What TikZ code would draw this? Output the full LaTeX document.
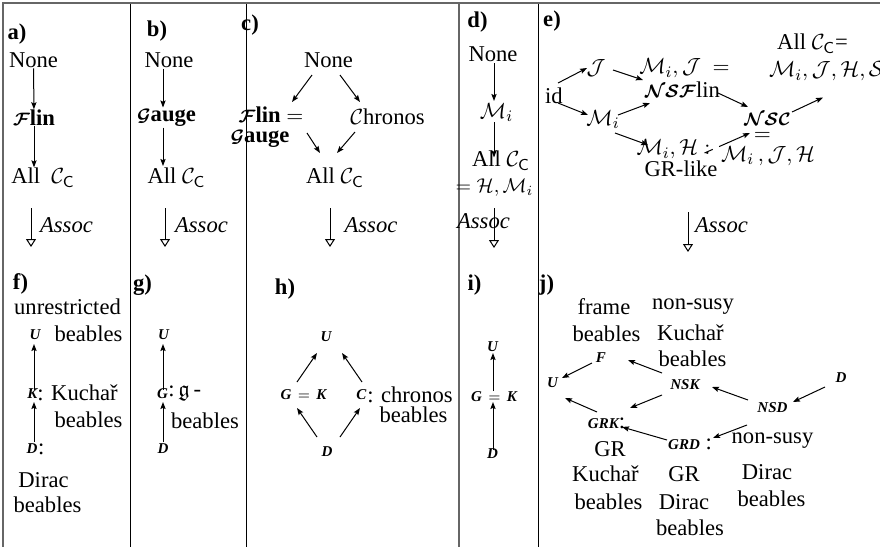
\documentclass[tikz,border=0pt]{standalone}
\usepackage{amsmath,amssymb,bm}
\usepackage{fontspec}
\setmainfont{Liberation Serif}
\usetikzlibrary{arrows.meta,calc}
\newcommand{\mainsz}{\fontsize{11.3}{13.3}\selectfont}
\newcommand{\bix}[1]{{\fontsize{7.5}{9}\selectfont\bfseries\itshape #1}}
\newcommand{\calb}[1]{{\fontsize{9}{10}\selectfont$\bm{\mathcal{#1}}$}}
\newcommand{\CcC}{\mathcal{C}_{\mathsf{C}}}
\begin{document}
\begin{tikzpicture}[x=0.5pt,y=-0.5pt,
  every node/.style={inner sep=0pt,font=\mainsz},
  arr/.style={-{Stealth[length=3.5pt,width=2.6pt,inset=0.6pt]},line width=0.5pt},
  assoc/.style={-{Triangle[open,length=4pt,width=5pt]},line width=0.5pt},
  lab/.style={font=\mainsz\bfseries},
  thinrule/.style={line width=0.5pt,black},
  thickrule/.style={line width=1pt,black!60}]
\useasboundingbox (0,0) rectangle (880,547);
% grid
\coordinate (tl) at (3,3);
\coordinate (tr) at (880,3);
\coordinate (bl) at (3,547);
\coordinate (v1t) at (130,3); \coordinate (v1b) at (130,547);
\coordinate (v2t) at (246,3); \coordinate (v2b) at (246,547);
\coordinate (v3t) at (459,3); \coordinate (v3b) at (459,547);
\coordinate (v4t) at (538,3); \coordinate (v4b) at (538,547);
\draw[thinrule] (v1t) -- (v1b);
\draw[thinrule] (v2t) -- (v2b);
\draw[thinrule] (v4t) -- (v4b);
\draw[thickrule] (v3t) -- (v3b);
\draw[thickrule] (bl) -- (tl) -- (tr);

% ---------- a)
\node[lab] (la) at (17,34) {a)};
\node (aNone) at (33.5,60.5) {None};
\node (aF) at (34,117.5) {\calb{F}\textbf{lin}};
\node (aAll) at (43,177.5) {All~~$\CcC$};
\draw[arr] (aNone) -- (aF);
\draw[arr] (aF) -- (aF |- aAll.north);
\coordinate (aA1) at (31,208); \coordinate (aA2) at (31,247);
\draw[assoc] (aA1) -- (aA2);
\node (aAs) at (66.5,225) {\textit{Assoc}};

% ---------- b)
\node[lab] (lb) at (157,31.5) {b)};
\node (bNone) at (169,60.5) {None};
\node (bG) at (166.5,117.5) {\calb{G}\textbf{auge}};
\node (bAll) at (176.5,178) {All $\CcC$};
\draw[arr] ($(bNone)+(-6,8)$) -- ($(bG)+(-3.5,-10)$);
\draw[arr] ($(bG)+(-3.5,10)$) -- ($(bAll)+(-13.5,-12)$);
\coordinate (bA1) at (165,208); \coordinate (bA2) at (165,247);
\draw[assoc] (bA1) -- (bA2);
\node (bAs) at (201.5,225) {\textit{Assoc}};

% ---------- c)
\node[lab] (lc) at (250,25) {c)};
\node (cNone) at (328.5,60.5) {None};
\node (cF) at (271,115) {\calb{F}\textbf{lin} $=$};
\node (cG) at (260,139) {\calb{G}\textbf{auge}};
\node (cCh) at (387.5,116.5) {$\mathcal{C}$hronos};
\node (cAll) at (335,178) {All $\CcC$};
\draw[arr] ($(cNone)+(-16.5,14.5)$) -- ($(cF)+(21,-13)$);
\draw[arr] ($(cNone)+(11.5,14.5)$) -- ($(cCh)+(-27.5,-14.5)$);
\draw[arr] ($(cG)+(47,-6)$) -- ($(cAll)+(-15,-25)$);
\draw[arr] ($(cCh)+(-32.5,15.5)$) -- ($(cAll)+(2,-25)$);
\coordinate (cA1) at (330,208); \coordinate (cA2) at (330,247);
\draw[assoc] (cA1) -- (cA2);
\node (cAs) at (371,225) {\textit{Assoc}};

% ---------- d)
\node[lab] (ld) at (477.5,22.5) {d)};
\node (dNone) at (493,54.5) {None};
\node (dM) at (496.5,112.5) {$\mathcal{M}_i$};
\node (dAll) at (501,160.5) {All $\CcC$};
\node[font=\fontsize{10}{12}\selectfont] (dEq) at (494.5,187.5) {$=\mathcal{H},\mathcal{M}_i$};
\draw[arr] ($(dNone)+(1,8.5)$) -- ($(dM)+(-2.5,-11.5)$);
\draw[arr] ($(dM)+(-2.5,9.5)$) -- ($(dAll)+(-7,-3)$);
\node (dAs) at (483.5,221.5) {\textit{Assoc}};
\coordinate (dA1) at (494,208); \coordinate (dA2) at (494,248);
\draw[assoc] (dA1) -- (dA2);

% ---------- e)
\node[lab] (le) at (552,21.5) {e)};
\node (eId) at (554,96) {id};
\node (eJ) at (596,68) {$\mathcal{J}$};
\node (eM) at (603,119.5) {$\mathcal{M}_i$};
\node (eMJ) at (684.5,68.5) {$\mathcal{M}_i, \mathcal{J}\ =$};
\node (eNSF) at (682.5,89.5) {\calb{NSF}lin};
\node (eMH) at (673.5,149.5) {$\mathcal{M}_i, \mathcal{H}:$};
\node (eGR) at (681,168.5) {GR-like};
\node (eNSC) at (767.5,119) {\calb{NSC}};
\node (eEq) at (762.5,136) {$=$};
\node (eMJH) at (768,156) {$\mathcal{M}_i\,, \mathcal{J}, \mathcal{H}$};
\node (eAll) at (812.5,44) {All $\CcC$=};
\node (eAll2) at (826.5,71.5) {$\mathcal{M}_i, \mathcal{J}, \mathcal{H}, \mathcal{S}$};
\draw[arr] ($(eId)+(4,-13)$) -- ($(eJ)+(-9,0)$);
\draw[arr] ($(eId)+(4,7)$) -- ($(eM)+(-15,-4.5)$);
\draw[arr] ($(eJ)+(17,2)$) -- ($(eNSF)+(-39.5,-9.5)$);
\draw[arr] ($(eM)+(15,-4.5)$) -- ($(eNSF)+(-32.5,13.5)$);
\draw[arr] ($(eM)+(12,13.5)$) -- ($(eMH)+(-25.5,-4.5)$);
\draw[arr] ($(eNSF)+(35.5,3.5)$) -- ($(eNSC)+(-19.5,-12)$);
\draw[arr,dash pattern=on 4.5pt off 3.5pt on 60pt] ($(eMH)+(31,3.5)$) -- ($(eNSC)+(-17.5,14)$);
\draw[arr] ($(eNSC)+(24.5,-7)$) -- ($(eAll2)+(-3.5,26)$);
\coordinate (eA1) at (688,212); \coordinate (eA2) at (688,252);
\draw[assoc] (eA1) -- (eA2);
\node (eAs) at (721.5,225) {\textit{Assoc}};

% ---------- f)
\node[lab] (lf) at (20.5,284) {f)};
\node (fUn) at (67.5,306.5) {unrestricted};
\node (fBe1) at (88.5,333.5) {beables};
\node (fU) at (35,335) {\bix{U}};
\node (fK) at (32.5,394) {\bix{K}};
\node[anchor=west] (fKl) at (37,393) {: Kuchař};
\node (fBe2) at (88.5,420) {beables};
\node (fD) at (32,449) {\bix{D}};
\node[anchor=west] (fDl) at (fD.east) {:};
\node (fDir) at (43.5,480) {Dirac};
\node (fBe3) at (47.5,505) {beables};
\draw[arr] ($(fK)+(1.5,-4)$) -- ($(fU)+(-1,9)$);
\draw[arr] ($(fD)+(2,-7)$) -- ($(fK)+(1.5,8)$);

% ---------- g)
\node[lab] (lg) at (142.5,285) {g)};
\node (gU) at (163.5,335) {\bix{U}};
\node (gG) at (162.5,394) {\bix{G}};
\node[anchor=west] (gGl) at (168,393) {:\,$\mathfrak{g}$\,-};
\node (gBe) at (205,420.5) {beables};
\node (gD) at (163,449) {\bix{D}};
\draw[arr] ($(gG)+(0.5,-4)$) -- ($(gU)+(-0.5,9)$);
\draw[arr] ($(gD)+(0,-7)$) -- ($(gG)+(0.5,8)$);

% ---------- h)
\node[lab] (lh) at (285,289) {h)};
\node (hU) at (326,337) {\bix{U}};
\node (hGK) at (303.5,395) {{\fontsize{7.5}{9}\selectfont\bfseries\itshape G \,$=$\, K}};
\node (hC) at (361.5,395) {\bix{C}};
\node[anchor=west] (hCl) at (hC.east) {: chronos};
\node (hBe) at (413.5,415) {beables};
\node (hD) at (327,452) {\bix{D}};
\draw[arr] ($(hGK)+(-6.5,-13)$) -- ($(hU)+(-9,16)$);
\draw[arr] ($(hC)+(0.5,-13)$) -- ($(hU)+(16,16)$);
\draw[arr] ($(hD)+(-10,-15)$) -- ($(hGK)+(-6.5,13)$);
\draw[arr] ($(hD)+(13,-15)$) -- ($(hC)+(-1.5,13)$);

% ---------- i)
\node[lab] (li) at (474.5,285) {i)};
\node (iU) at (492.5,347) {\bix{U}};
\node (iGK) at (494,397) {{\fontsize{7.5}{9}\selectfont\bfseries\itshape G \,$=$\, K}};
\node (iD) at (492.5,454) {\bix{D}};
\draw[arr] ($(iGK)+(-1,-6)$) -- ($(iU)+(0.5,6)$);
\draw[arr] ($(iD)+(0.5,-4)$) -- ($(iGK)+(-1,5)$);

% ---------- j)
\node[lab] (lj) at (546.5,285.5) {j)};
\node (jFr) at (604,306.5) {frame};
\node (jBe1) at (606.5,333.5) {beables};
\node (jNon1) at (693,306.5) {non-susy};
\node (jKu1) at (690.5,333) {Kuchař};
\node (jBe2) at (692.5,359) {beables};
\node (jF) at (601,357.5) {\bix{F}};
\node (jU) at (552.5,382.5) {\bix{U}};
\node (jNSK) at (685,385) {\bix{NSK}};
\node (jD) at (841,378) {\bix{D}};
\node (jNSD) at (772.5,408) {\bix{NSD}};
\node (jGRK) at (606.5,423.5) {\bix{GRK}:};
\node (jGR1) at (610,449) {GR};
\node (jKu2) at (605.5,474) {Kuchař};
\node (jBe3) at (608.5,502) {beables};
\node (jGRD) at (690,444) {\bix{GRD} :};
\node (jNon2) at (772.5,441) {non-susy};
\node (jGR2) at (684,474) {GR};
\node (jDir1) at (684,502) {Dirac};
\node (jBe4) at (690,528) {beables};
\node (jDir2) at (767,472) {Dirac};
\node (jBe5) at (771.5,499) {beables};
\draw[arr] ($(jF)+(-9,5.5)$) -- ($(jU)+(9.5,-4.5)$);
\draw[arr] ($(jNSK)+(-23,-12)$) -- ($(jF)+(27,2.5)$);
\draw[arr] ($(jD)+(-16,9)$) -- ($(jNSD)+(20.5,-6)$);
\draw[arr] ($(jNSD)+(-24.5,-8)$) -- ($(jNSK)+(27,2)$);
\draw[arr] ($(jNSK)+(-23,10)$) -- ($(jGRK)+(23.5,-15.5)$);
\draw[arr] ($(jGRK)+(-9.5,-11.5)$) -- ($(jU)+(12.5,15.5)$);
\draw[arr] ($(jGRD)+(-23,-4)$) -- ($(jGRK)+(15.5,3.5)$);
\draw[arr] ($(jNSD)+(-25.5,17)$) -- ($(jGRD)+(23,-6)$);
\end{tikzpicture}
\end{document}
